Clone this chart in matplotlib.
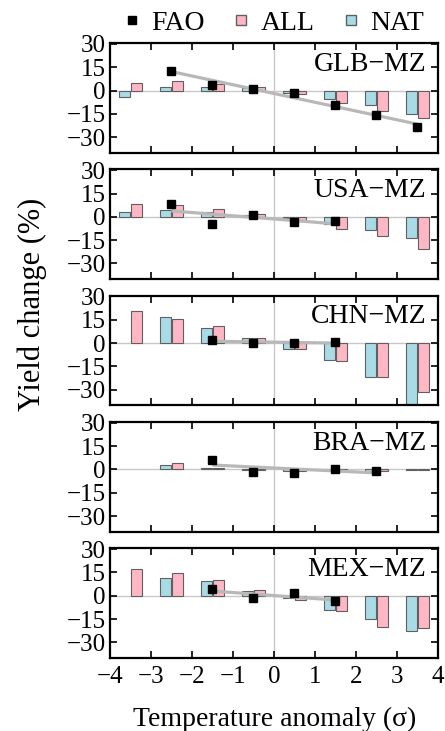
import numpy as np
import matplotlib
matplotlib.use("Agg")
import matplotlib.pyplot as plt
from matplotlib.lines import Line2D

plt.rcParams['font.family'] = ['Liberation Serif', 'DejaVu Serif']
plt.rcParams['axes.unicode_minus'] = True

# bin centres of temperature anomaly (sigma)
bins = [-3.5, -2.5, -1.5, -0.5, 0.5, 1.5, 2.5, 3.5]

regions = ["GLB\u2212MZ", "USA\u2212MZ", "CHN\u2212MZ", "BRA\u2212MZ", "MEX\u2212MZ"]

# simulated yield change, natural-only forcing (NAT); None = no bar
nat_glb = [-4.4, 2.0, 2.5, 1.5, -1.5, -5.3, -9.0, -14.8]
nat_usa = [3.4, 4.7, 2.8, 1.5, -1.0, -4.5, -8.7, -13.8]
nat_chn = [None, 16.7, 9.5, 3.6, -3.8, -10.8, -21.6, -39.5]
nat_bra = [None, 3.0, 1.0, -0.5, -1.0, 0.0, -0.8, -0.3]
nat_mex = [None, 11.6, 9.3, 3.2, -1.5, -8.9, -15.0, -23.0]

# simulated yield change, all forcings (ALL)
all_glb = [5.0, 6.3, 4.0, 2.0, -2.5, -7.8, -13.0, -17.5]
all_usa = [8.5, 7.9, 5.1, 2.0, -2.0, -7.7, -12.3, -20.4]
all_chn = [20.5, 15.2, 10.8, 3.6, -4.0, -11.6, -22.0, -31.3]
all_bra = [None, 3.9, 1.0, -0.5, -1.0, -0.3, -1.0, -0.2]
all_mex = [16.9, 14.6, 10.4, 3.8, -3.0, -9.9, -20.3, -20.5]

# observed (FAO) yield change, only where available
fao_x_glb = [-2.5, -1.5, -0.5, 0.5, 1.5, 2.5, 3.5]
fao_glb = [12.7, 3.6, 1.0, -1.7, -9.0, -16.0, -23.5]
fao_x_usa = [-2.5, -1.5, -0.5, 0.5, 1.5]
fao_usa = [8.3, -4.9, 1.1, -3.4, -2.8]
fao_x_chn = [-1.5, -0.5, 0.5, 1.5]
fao_chn = [1.7, 0.4, -0.2, 0.6]
fao_x_bra = [-1.5, -0.5, 0.5, 1.5, 2.5]
fao_bra = [6.2, -1.5, -2.6, 0.4, -1.1]
fao_x_mex = [-1.5, -0.5, 0.5, 1.5]
fao_mex = [4.0, -1.7, 1.7, -3.6]

nat_all = [nat_glb, nat_usa, nat_chn, nat_bra, nat_mex]
all_all = [all_glb, all_usa, all_chn, all_bra, all_mex]
fao_xs = [fao_x_glb, fao_x_usa, fao_x_chn, fao_x_bra, fao_x_mex]
fao_ys = [fao_glb, fao_usa, fao_chn, fao_bra, fao_mex]

nat_color = '#a9dbe6'
all_color = '#ffb7c5'
edge = '#606060'
w = 0.27


def draw_bars(ax, vals, offset, color):
    xs = [b + offset for b, v in zip(bins, vals) if v is not None]
    ys = [v for v in vals if v is not None]
    ax.bar(xs, ys, width=w, color=color, edgecolor=edge, linewidth=0.8, zorder=2)


fig, axes = plt.subplots(5, 1, figsize=(4.45, 7.31), dpi=100, sharex=True)
fig.subplots_adjust(left=0.247, right=0.984, top=0.941, bottom=0.100, hspace=0.152)

for i, ax in enumerate(axes):
    ax.axhline(0, color='#c8c8c8', lw=1, zorder=0)
    ax.axvline(0, color='#c8c8c8', lw=1, zorder=0)
    draw_bars(ax, nat_all[i], -0.14, nat_color)
    draw_bars(ax, all_all[i], 0.15, all_color)

    # grey trend line fitted through the FAO points
    fx = np.array(fao_xs[i])
    fy = np.array(fao_ys[i])
    k, b = np.polyfit(fx, fy, 1)
    ax.plot([fx[0], fx[-1]], [k * fx[0] + b, k * fx[-1] + b], color='#b8b8b8', lw=2.3, zorder=3,
            solid_capstyle='butt')
    ax.plot(fx, fy, 's', color='black', ms=5.5, zorder=4)

    ax.text(0.965, 0.92, regions[i], transform=ax.transAxes, ha='right', va='top', fontsize=20)

    ax.set_xlim(-4, 4)
    ax.set_ylim(-40, 30.5)
    ax.set_yticks([30, 15, 0, -15, -30])
    ax.set_xticks(range(-4, 5))
    ax.tick_params(direction='in', top=True, right=True, length=5, width=1.2, labelsize=18, pad=3)
    for s in ax.spines.values():
        s.set_linewidth(1.6)

axes[-1].tick_params(axis='x', pad=6)
fig.text(0.072, 0.584, 'Yield change (%)', rotation=90, ha='center', va='center', fontsize=22)
fig.text(0.617, 0.016, 'Temperature anomaly (\u03c3)', ha='center', va='center', fontsize=20)

handles = [
    Line2D([], [], marker='s', ls='none', color='black', ms=5.5),
    Line2D([], [], marker='s', ls='none', markerfacecolor=all_color, markeredgecolor=edge, ms=6.5),
    Line2D([], [], marker='s', ls='none', markerfacecolor=nat_color, markeredgecolor=edge, ms=6.5),
]
fig.legend(handles, ['FAO', 'ALL', 'NAT'], loc='upper center', bbox_to_anchor=(0.615, 1.02),
           ncol=3, frameon=False, fontsize=20, handlelength=0.6, handletextpad=0.4,
           columnspacing=1.0)

fig.savefig('out.png', dpi=100)
